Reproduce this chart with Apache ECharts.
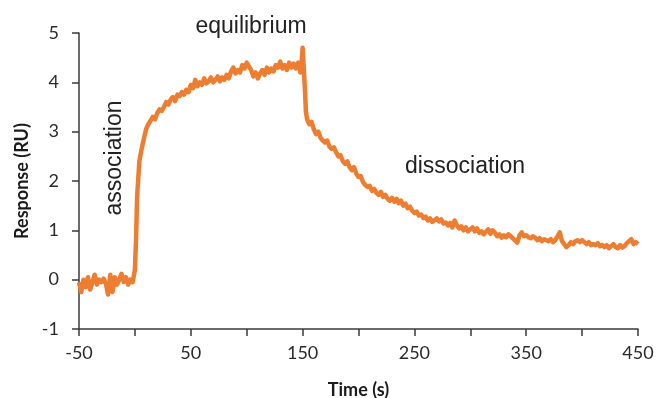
<!DOCTYPE html>
<html><head><meta charset="utf-8">
<script src="https://cdn.jsdelivr.net/npm/echarts@6/dist/echarts.min.js"></script>
<style>html,body{margin:0;padding:0;background:#fff}#c{width:656px;height:398px}</style>
</head><body><div id="c"></div>
<script>
const time = [-50,-48,-46,-44,-42,-40,-38,-36,-34,-32,-30,-28,-26,-24,-22,-20,-18,-16,-14,-12,-10,-8,-6,-4,-2,0,1,2,4,6,8,10,12,14,16,18,20,22,24,26,28,30,32,34,36,38,40,42,44,46,48,50,52,54,56,58,60,62,64,66,68,70,72,74,76,78,80,82,84,86,88,90,92,94,96,98,100,102,104,106,108,110,112,114,116,118,120,122,124,126,128,130,132,134,136,138,140,142,144,146,148,149,150,151,152,153,154,156,158,160,162,164,166,168,170,172,174,176,178,180,182,184,186,188,190,192,194,196,198,200,202,204,206,208,210,212,214,216,218,220,222,224,226,228,230,232,234,236,238,240,242,244,246,248,250,252,254,256,258,260,262,264,266,268,270,272,274,276,278,280,282,284,286,288,290,292,294,296,298,300,302,304,306,308,310,312,314,316,318,320,322,324,326,328,330,332,334,336,338,340,342,344,346,348,350,352,354,356,358,360,362,364,366,368,370,372,374,376,378,380,382,384,386,388,390,392,394,396,398,400,402,404,406,408,410,412,414,416,418,420,422,424,426,428,430,432,434,436,438,440,442,444,446,448,450];
const response = [-0.05,-0.25,0.0,-0.15,0.05,-0.2,-0.05,0.1,-0.1,0.0,-0.05,0.02,-0.08,-0.3,0.1,-0.25,0.05,-0.1,0.0,0.12,-0.05,0.05,-0.1,0.0,-0.05,0.2,0.8,1.7,2.4,2.65,2.85,3.05,3.15,3.22,3.3,3.25,3.38,3.45,3.42,3.5,3.6,3.55,3.65,3.7,3.62,3.75,3.72,3.8,3.75,3.85,3.8,3.95,3.88,4.05,3.92,4.0,3.95,4.08,3.98,4.02,4.1,4.0,4.05,4.12,4.02,4.1,4.05,4.15,4.08,4.22,4.3,4.18,4.25,4.2,4.35,4.28,4.4,4.32,4.25,4.12,4.2,4.08,4.18,4.25,4.15,4.3,4.2,4.28,4.22,4.35,4.3,4.42,4.28,4.35,4.25,4.4,4.3,4.38,4.28,4.4,4.2,4.35,4.7,4.3,3.9,3.4,3.25,3.15,3.2,3.05,2.95,3.0,2.88,2.82,2.78,2.82,2.7,2.65,2.68,2.58,2.5,2.52,2.4,2.35,2.4,2.28,2.22,2.28,2.15,2.08,2.1,1.98,1.92,1.88,1.9,1.8,1.84,1.76,1.72,1.78,1.68,1.72,1.64,1.6,1.66,1.58,1.64,1.55,1.6,1.5,1.54,1.45,1.48,1.4,1.35,1.38,1.3,1.32,1.25,1.28,1.2,1.24,1.17,1.2,1.24,1.18,1.22,1.14,1.16,1.1,1.15,1.06,1.2,1.1,1.04,1.08,1.0,1.06,0.98,1.02,1.06,0.98,1.04,0.95,0.98,0.92,0.97,1.02,0.93,1.0,0.95,0.88,0.92,0.85,0.9,0.86,0.92,0.88,0.84,0.8,0.75,0.9,0.96,0.88,0.9,0.86,0.84,0.88,0.85,0.8,0.84,0.78,0.82,0.8,0.78,0.82,0.76,0.8,0.88,0.96,0.78,0.72,0.66,0.7,0.76,0.72,0.78,0.8,0.76,0.8,0.76,0.72,0.76,0.7,0.72,0.7,0.74,0.68,0.7,0.66,0.7,0.64,0.68,0.72,0.66,0.64,0.7,0.65,0.68,0.74,0.78,0.82,0.72,0.76,0.72];
const xTickLabels = [-50, 50, 150, 250, 350, 450];
const yTickLabels = [-1, 0, 1, 2, 3, 4, 5];
const xTitle = 'Time (s)';
const yTitle = 'Response (RU)';
const notes = ['equilibrium', 'association', 'dissociation'];

const chart = echarts.init(document.getElementById('c'));
const axisFont = 'Lato, "Open Sans", sans-serif';
const noteFont = '"Liberation Sans", Arial, sans-serif';
chart.setOption({
  animation: false,
  grid: {left: 79, right: 18, top: 33, bottom: 69, containLabel: false, outerBoundsMode: 'none'},
  xAxis: {
    type: 'value', min: -50, max: 450, interval: 50,
    axisLine: {onZero: false, lineStyle: {color: '#3a3a3a', width: 1.5}},
    axisTick: {show: true, length: 7, lineStyle: {color: '#3a3a3a', width: 1.5}},
    splitLine: {show: false},
    axisLabel: {
      margin: 15, color: '#2a2a2a', fontSize: 18, fontFamily: axisFont,
      formatter: v => xTickLabels.indexOf(v) >= 0 ? String(v) : ''
    },
    name: xTitle, nameLocation: 'middle', nameGap: 52,
    nameTextStyle: {fontSize: 18, fontWeight: 'bold', color: '#1a1a1a', fontFamily: axisFont}
  },
  yAxis: {
    type: 'value', min: -1, max: 5, interval: 1,
    axisLine: {show: true, onZero: false, lineStyle: {color: '#3a3a3a', width: 1.5}},
    axisTick: {show: true, length: 7, lineStyle: {color: '#3a3a3a', width: 1.5}},
    splitLine: {show: false},
    axisLabel: {
      margin: 20, color: '#2a2a2a', fontSize: 18, fontFamily: axisFont,
      formatter: v => yTickLabels.indexOf(v) >= 0 ? String(v) : ''
    },
    name: yTitle, nameLocation: 'middle', nameGap: 46, nameRotate: 90,
    nameTextStyle: {fontSize: 18, fontWeight: 'bold', color: '#1a1a1a', fontFamily: axisFont}
  },
  series: [{
    type: 'line', showSymbol: false, symbol: 'none',
    data: time.map((t, i) => [t, response[i]]),
    lineStyle: {color: '#ED7D31', width: 4.5, join: 'round'}
  }],
  graphic: [
    {type: 'text', x: 251, y: 27, style: {text: notes[0], align: 'center', verticalAlign: 'middle', fontSize: 23, fontFamily: noteFont, fill: '#222'}},
    {type: 'text', x: 115, y: 158, rotation: Math.PI / 2, style: {text: notes[1], align: 'center', verticalAlign: 'middle', fontSize: 23, fontFamily: noteFont, fill: '#222'}},
    {type: 'text', x: 465, y: 167, style: {text: notes[2], align: 'center', verticalAlign: 'middle', fontSize: 23, fontFamily: noteFont, fill: '#222'}}
  ]
});
</script></body></html>
